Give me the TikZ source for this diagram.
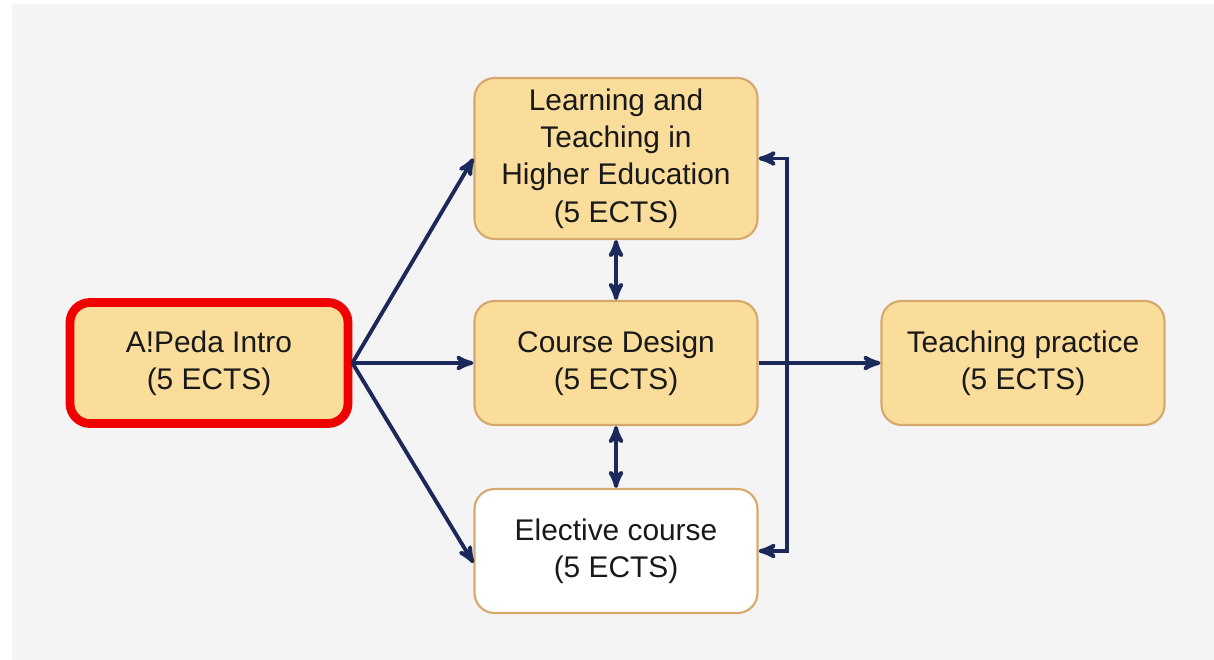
\documentclass[tikz,border=0pt]{standalone}
\usepackage{fontspec}
\setmainfont{Liberation Sans}
\usetikzlibrary{arrows}

\definecolor{boxfill}{RGB}{250,221,155}
\definecolor{boxline}{RGB}{214,168,108}
\definecolor{linkblue}{RGB}{27,40,90}
\definecolor{introred}{RGB}{240,0,0}
\definecolor{bggray}{RGB}{244,244,244}

\begin{document}
\begin{tikzpicture}[->,>=stealth',semithick,node distance=8.14cm]

        \tikzstyle{course}=[draw=boxline,fill=boxfill,line width=1.2pt,rounded corners=0.4cm,minimum width=5.66cm,minimum height=2.48cm,align=center,text=black!90,font=\fontsize{17}{21.2}\selectfont]
        \tikzstyle{link}=[color=linkblue,line width=2.2pt]

        \fill[white] (0,0) rectangle (24.28,-13.2);
        \fill[bggray] (0.24,-0.08) rectangle (24.28,-13.2);
        \useasboundingbox (0,0) rectangle (24.28,-13.2);

        \node[course,draw=introred,line width=5pt,minimum width=5.56cm,minimum height=2.42cm] (intro) at (4.18,-7.26) {A!Peda Intro\\(5 ECTS)};
        \node[course]                          (cd)       [right of = intro] {Course Design\\(5 ECTS)};
        \node[course]                          (tp)       [right of = cd]    {Teaching practice\\(5 ECTS)};
        \node[course,minimum height=3.22cm,node distance=4.09cm] (lthe) [above of = cd] {Learning and\\Teaching in\\Higher Education\\(5 ECTS)};
        \node[course,fill=white,node distance=3.76cm] (elective) [below of = cd] {Elective course\\(5 ECTS)};

        \coordinate (split) at ([xshift=0.57cm]cd.east);

        \path[link]
        (intro.east) edge (lthe.west)
        (intro.east) edge (cd.west)
        (intro.east) edge ([yshift=-0.24cm]elective.west)
        (lthe.south) edge[<->] (cd.north)
        (cd.south)   edge[<->] (elective.north)
        (cd.east)    edge (tp.west)
    ;
        \draw[link] (split) |- (lthe.east);
        \draw[link] (split) |- (elective.east);
    \end{tikzpicture}
\end{document}
